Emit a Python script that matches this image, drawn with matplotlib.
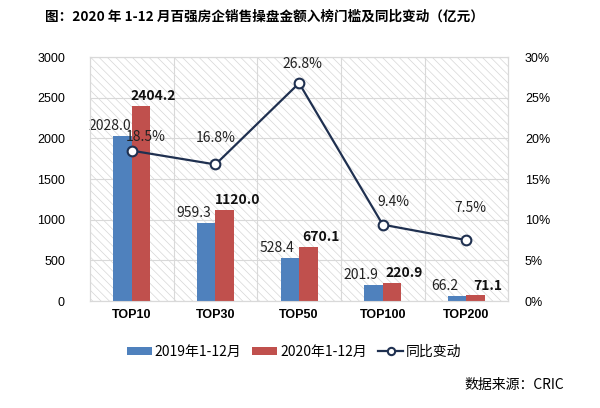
import matplotlib.pyplot as plt
from matplotlib.patches import Rectangle
from matplotlib.ticker import FuncFormatter
import numpy as np

categories = ['TOP10', 'TOP30', 'TOP50', 'TOP100', 'TOP200']
sales_2019 = [2028.0, 959.3, 528.4, 201.9, 66.2]
sales_2020 = [2404.2, 1120.0, 670.1, 220.9, 71.1]
yoy_change = [18.5, 16.8, 26.8, 9.4, 7.5]

# label offsets for the percent labels (points)
pct_offsets = [(10, 5), (0, 14), (2, 9), (8, 11), (3, 18)]

plt.rcParams['font.family'] = ['Noto Sans CJK SC', 'DejaVu Sans']
plt.rcParams['hatch.linewidth'] = 0.5

blue = '#4f81bd'
red = '#c0504d'
navy = '#1f3050'

fig = plt.figure(figsize=(6, 4.08), dpi=100)
ax = fig.add_axes([0.15, 0.262, 0.697, 0.598])
ax2 = ax.twinx()

x = np.arange(len(categories))
w = 0.22

# hatched background
ax.add_patch(Rectangle((0, 0), 1, 1, transform=ax.transAxes, facecolor='white',
                       edgecolor='#d6d6d6', linewidth=0, hatch='\\\\\\\\', zorder=0))

b1 = ax.bar(x - w / 2, sales_2019, w, color=blue, zorder=3, label='2019年1-12月')
b2 = ax.bar(x + w / 2, sales_2020, w, color=red, zorder=3, label='2020年1-12月')

for xi, v in zip(x, sales_2019):
    ax.annotate(f'{v:.1f}', (xi - w / 2, v), xytext=(-9, 2), textcoords='offset points',
                ha='center', va='bottom', fontsize=10, color='#222222', zorder=5)
for xi, v in zip(x, sales_2020):
    ax.annotate(f'{v:.1f}', (xi + w / 2, v), xytext=(9, 2), textcoords='offset points',
                ha='center', va='bottom', fontsize=10, fontweight='bold', color='#111111', zorder=5)

ax.set_xlim(-0.5, len(categories) - 0.5)
ax.set_ylim(0, 3000)
ax.set_yticks(range(0, 3001, 500))
ax.set_xticks(x)
ax.set_xticklabels(categories, fontweight='bold', fontsize=9, family='Liberation Sans')
for t in ax.get_yticklabels():
    t.set_family('Liberation Sans')
ax.tick_params(axis='y', length=0, labelsize=9, pad=18)
ax.tick_params(axis='x', length=0, pad=6)
ax.set_xticks(np.arange(0.5, len(categories) - 0.5, 1), minor=True)
ax.tick_params(axis='x', which='minor', length=0)
ax.grid(axis='y', color='#d9d9d9', linewidth=0.8, zorder=1)
ax.grid(axis='x', which='minor', color='#d9d9d9', linewidth=0.8, zorder=1)
ax.set_axisbelow(True)

ln, = ax2.plot(x, yoy_change, color=navy, linewidth=1.6, marker='o', markersize=7,
               markerfacecolor='white', markeredgecolor=navy, markeredgewidth=1.5,
               zorder=4, label='同比变动')
for xi, v, off in zip(x, yoy_change, pct_offsets):
    ax2.annotate(f'{v:.1f}%', (xi, v), xytext=off, textcoords='offset points',
                 ha='center', va='bottom', fontsize=10, color='#222222')

ax2.set_ylim(0, 30)
ax2.set_yticks(range(0, 31, 5))
ax2.yaxis.set_major_formatter(FuncFormatter(lambda v, p: f'{v:.0f}%'))
for t in ax2.get_yticklabels():
    t.set_family('Liberation Sans')
ax2.tick_params(axis='y', length=0, labelsize=9, pad=12)

for a in (ax, ax2):
    for s in a.spines.values():
        s.set_color('#d9d9d9')
        s.set_linewidth(0.8)

fig.text(0.075, 0.958, '图：2020 年 1-12 月百强房企销售操盘金额入榜门槛及同比变动（亿元）',
         fontsize=9.8, fontweight='bold', va='center')

fig.legend(handles=[b1, b2, ln], loc='center', bbox_to_anchor=(0.49, 0.138), ncol=3,
           frameon=False, fontsize=10, handlelength=1.8, handletextpad=0.2,
           columnspacing=0.8, handleheight=0.5, markerscale=0.75)

fig.text(0.94, 0.057, '数据来源：CRIC', fontsize=10, ha='right', va='center')

fig.savefig('out.png', dpi=100)
